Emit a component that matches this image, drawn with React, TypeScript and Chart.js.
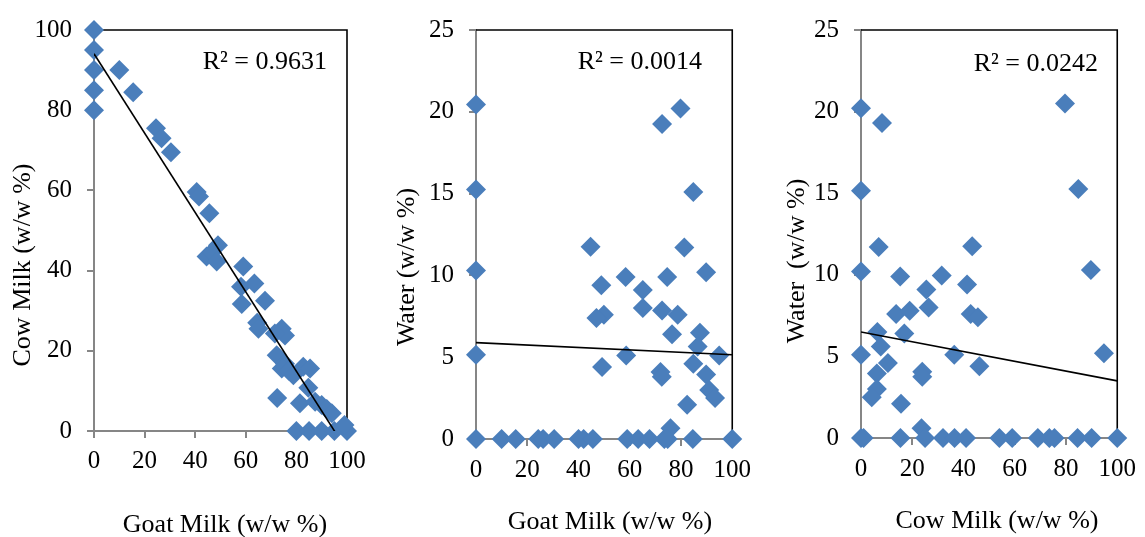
import React, { useEffect, useRef } from 'react';
import { Chart, registerables } from 'chart.js';

Chart.register(...registerables);

// ---- Goat milk vs cow milk (w/w %) ----
const goatA = [0, 0, 0, 0, 0, 10, 15.5, 24.5, 26.7, 30.4, 40.6, 41.5, 45.6, 44.5, 46.5, 49, 48.5, 59, 58.1, 63.4, 58.4, 67.6, 64.5, 65, 74.2, 75.5, 71.5, 72.2, 75.5, 74.2, 77, 78.8, 82.7, 85.4, 84.7, 72.4, 81.4, 87.4, 90, 92, 94, 80, 85, 90, 95, 100, 99];
const cowA = [100, 95, 90, 85, 80, 90, 84.5, 75.5, 73, 69.5, 59.6, 58.5, 54.3, 43.5, 44.5, 46.3, 42.3, 41, 36, 36.8, 31.7, 32.5, 27, 25.5, 25.5, 23.8, 24.3, 18.9, 16.8, 15.6, 15, 13.9, 16, 15.6, 10.8, 8.2, 6.9, 7.3, 6.5, 5.5, 4.4, 0, 0, 0, 0, 0, 1.5];

// ---- Goat milk vs water (w/w %) ----
const goatB = [0, 79.8, 72.6, 0, 84.8, 44.7, 81.3, 0, 89.8, 58.4, 74.6, 48.9, 65.1, 65.1, 72.6, 78.7, 49.9, 47, 76.5, 87.4, 86.5, 0, 58.6, 94.9, 49.2, 84.8, 72, 72.5, 89.8, 91, 93.3, 82.4, 75.9, 0, 10, 15.5, 24.3, 26.2, 30.5, 40, 42, 45.6, 59, 63.3, 67.7, 73.5, 74.8, 84.6, 100];
const waterB = [20.45, 20.2, 19.25, 15.25, 15.1, 11.75, 11.7, 10.3, 10.2, 9.9, 9.9, 9.4, 9.1, 8.0, 7.85, 7.6, 7.6, 7.4, 6.4, 6.5, 5.65, 5.15, 5.1, 5.1, 4.4, 4.6, 4.1, 3.8, 3.95, 3.0, 2.5, 2.1, 0.65, 0, 0, 0, 0, 0, 0, 0, 0, 0, 0, 0, 0, 0, 0, 0, 0];

// ---- Cow milk vs water (w/w %) ----
const cowC = [0, 8.2, 79.6, 0, 84.8, 6.9, 43.4, 0, 89.7, 15.3, 31.5, 41.4, 25.5, 26.4, 13.7, 19, 42.8, 45.6, 6.4, 16.9, 7.7, 0, 36.4, 94.8, 10.5, 46.2, 23.9, 23.9, 6.2, 6.2, 4.2, 15.6, 23.6, 0, 1, 15.4, 25, 32, 36.5, 41, 54, 59, 69, 73.5, 75.5, 84.5, 90, 100];
const waterC = [20.2, 19.3, 20.5, 15.15, 15.25, 11.7, 11.75, 10.2, 10.3, 9.9, 9.95, 9.4, 9.1, 8.0, 7.6, 7.8, 7.6, 7.4, 6.5, 6.4, 5.6, 5.1, 5.1, 5.2, 4.6, 4.4, 4.06, 3.75, 3.95, 3.0, 2.5, 2.1, 0.6, 0, 0, 0, 0, 0, 0, 0, 0, 0, 0, 0, 0, 0, 0, 0];

// Tick labels
const milkTicks = [0, 20, 40, 60, 80, 100];
const waterTicks = [0, 5, 10, 15, 20, 25];

// Linear trendlines: [intercept, slope]
const fitA = [94.1, -0.99];
const fitB = [5.89, -0.0074];
const fitC = [6.5, -0.03];

const r2Labels = ['R² = 0.9631', 'R² = 0.0014', 'R² = 0.0242'];

const FONT = '"Liberation Serif", "Times New Roman", serif';
const MARKER = '#4A7EBB';
const AXIS_GREY = '#868686';

type PanelLayout = {
  width: number;
  left: number;
  axisW: number;
  axisH: number;
  padTop: number;
  padRight: number;
  xTickPad: number;
  yTitle: [number, number];
  xTitle: [number, number];
  r2: [number, number];
};

type Panel = {
  xs: number[];
  ys: number[];
  fit: number[];
  r2: string;
  yTicks: number[];
  xTitle: string;
  yTitle: string;
  layout: PanelLayout;
};

const panels: Panel[] = [
  {
    xs: goatA, ys: cowA, fit: fitA, r2: r2Labels[0], yTicks: milkTicks,
    xTitle: 'Goat Milk (w/w %)', yTitle: 'Cow Milk (w/w %)',
    layout: { width: 380, left: 0, axisW: 94, axisH: 106, padTop: 28, padRight: 33, xTickPad: 8, yTitle: [29.5, 265], xTitle: [225, 532], r2: [327, 69] },
  },
  {
    xs: goatB, ys: waterB, fit: fitB, r2: r2Labels[1], yTicks: waterTicks,
    xTitle: 'Goat Milk (w/w %)', yTitle: 'Water (w/w %)',
    layout: { width: 380, left: 380, axisW: 96, axisH: 98, padTop: 30, padRight: 27, xTickPad: 9, yTitle: [34, 267], xTitle: [230, 529], r2: [322, 69] },
  },
  {
    xs: cowC, ys: waterC, fit: fitC, r2: r2Labels[2], yTicks: waterTicks,
    xTitle: 'Cow Milk (w/w %)', yTitle: 'Water  (w/w %)',
    layout: { width: 385, left: 760, axisW: 101, axisH: 99, padTop: 30, padRight: 23, xTickPad: 9, yTitle: [44, 261], xTitle: [237, 528], r2: [338, 71] },
  },
];

// Plot-area frame (top/right), axis titles and the R² note
const panelDecor = {
  id: 'panelDecor',
  beforeDatasetsDraw(chart: any) {
    const { ctx, chartArea: a } = chart;
    ctx.save();
    ctx.strokeStyle = '#000';
    ctx.lineWidth = 1.6;
    ctx.beginPath();
    ctx.moveTo(a.left, a.top);
    ctx.lineTo(a.right, a.top);
    ctx.lineTo(a.right, a.bottom);
    ctx.stroke();
    ctx.restore();
  },
  afterDraw(chart: any, _args: any, opts: any) {
    const { ctx } = chart;
    ctx.save();
    ctx.fillStyle = '#000';
    ctx.font = `26px ${FONT}`;
    ctx.textBaseline = 'alphabetic';

    ctx.textAlign = 'right';
    ctx.fillText(opts.r2Text, opts.r2[0], opts.r2[1]);

    ctx.textAlign = 'center';
    ctx.fillText(opts.xTitleText, opts.xTitle[0], opts.xTitle[1]);

    ctx.translate(opts.yTitle[0], opts.yTitle[1]);
    ctx.rotate(-Math.PI / 2);
    ctx.fillText(opts.yTitleText, 0, 0);
    ctx.restore();
  },
};

function ScatterPanel({ panel }: { panel: Panel }) {
  const ref = useRef<HTMLCanvasElement | null>(null);

  useEffect(() => {
    if (!ref.current) return;
    const L = panel.layout;
    const yMax = panel.yTicks[panel.yTicks.length - 1];
    const points = panel.xs.map((x, i) => ({ x, y: panel.ys[i] }));
    const trend = [0, 100].map((x) => ({ x, y: panel.fit[0] + panel.fit[1] * x }));

    const tickStyle = {
      color: '#000',
      font: { family: FONT, size: 25 },
    };

    const chart = new Chart(ref.current, {
      type: 'scatter',
      data: {
        datasets: [
          {
            type: 'line',
            data: trend,
            borderColor: '#000',
            borderWidth: 1.6,
            pointRadius: 0,
            fill: false,
            order: 0,
          } as any,
          {
            data: points,
            pointStyle: 'rectRot',
            pointRadius: 10,
            backgroundColor: MARKER,
            borderColor: MARKER,
            borderWidth: 0,
            clip: false,
            order: 1,
          } as any,
        ],
      },
      options: {
        responsive: false,
        maintainAspectRatio: false,
        animation: false,
        devicePixelRatio: 1,
        events: [],
        layout: { padding: { top: L.padTop, right: L.padRight, left: 0, bottom: 0 } },
        plugins: {
          legend: { display: false },
          tooltip: { enabled: false },
          panelDecor: {
            r2Text: panel.r2,
            r2: L.r2,
            xTitleText: panel.xTitle,
            xTitle: L.xTitle,
            yTitleText: panel.yTitle,
            yTitle: L.yTitle,
          },
        } as any,
        scales: {
          x: {
            type: 'linear',
            min: 0,
            max: 100,
            afterBuildTicks: (s: any) => {
              s.ticks = milkTicks.map((v) => ({ value: v }));
            },
            afterFit: (s: any) => {
              s.height = L.axisH;
            },
            ticks: { ...tickStyle, padding: L.xTickPad, maxRotation: 0 },
            grid: { drawOnChartArea: false, drawTicks: true, tickLength: 7, color: AXIS_GREY, lineWidth: 2 },
            border: { display: true, color: AXIS_GREY, width: 2 },
            title: { display: false },
          },
          y: {
            type: 'linear',
            min: 0,
            max: yMax,
            afterBuildTicks: (s: any) => {
              s.ticks = panel.yTicks.map((v) => ({ value: v }));
            },
            afterFit: (s: any) => {
              s.width = L.axisW;
            },
            ticks: { ...tickStyle, padding: 15 },
            grid: { drawOnChartArea: false, drawTicks: true, tickLength: 7, color: AXIS_GREY, lineWidth: 2 },
            border: { display: true, color: AXIS_GREY, width: 2 },
            title: { display: false },
          },
        },
      },
      plugins: [panelDecor],
    });

    return () => chart.destroy();
  }, [panel]);

  const L = panel.layout;
  return (
    <canvas
      ref={ref}
      width={L.width}
      height={537}
      style={{ position: 'absolute', left: L.left, top: 0, width: L.width, height: 537 }}
    />
  );
}

export default function App() {
  return (
    <div style={{ position: 'absolute', left: 0, top: 0, width: 1145, height: 537, background: '#fff', overflow: 'hidden' }}>
      {panels.map((p, i) => (
        <ScatterPanel key={i} panel={p} />
      ))}
    </div>
  );
}
